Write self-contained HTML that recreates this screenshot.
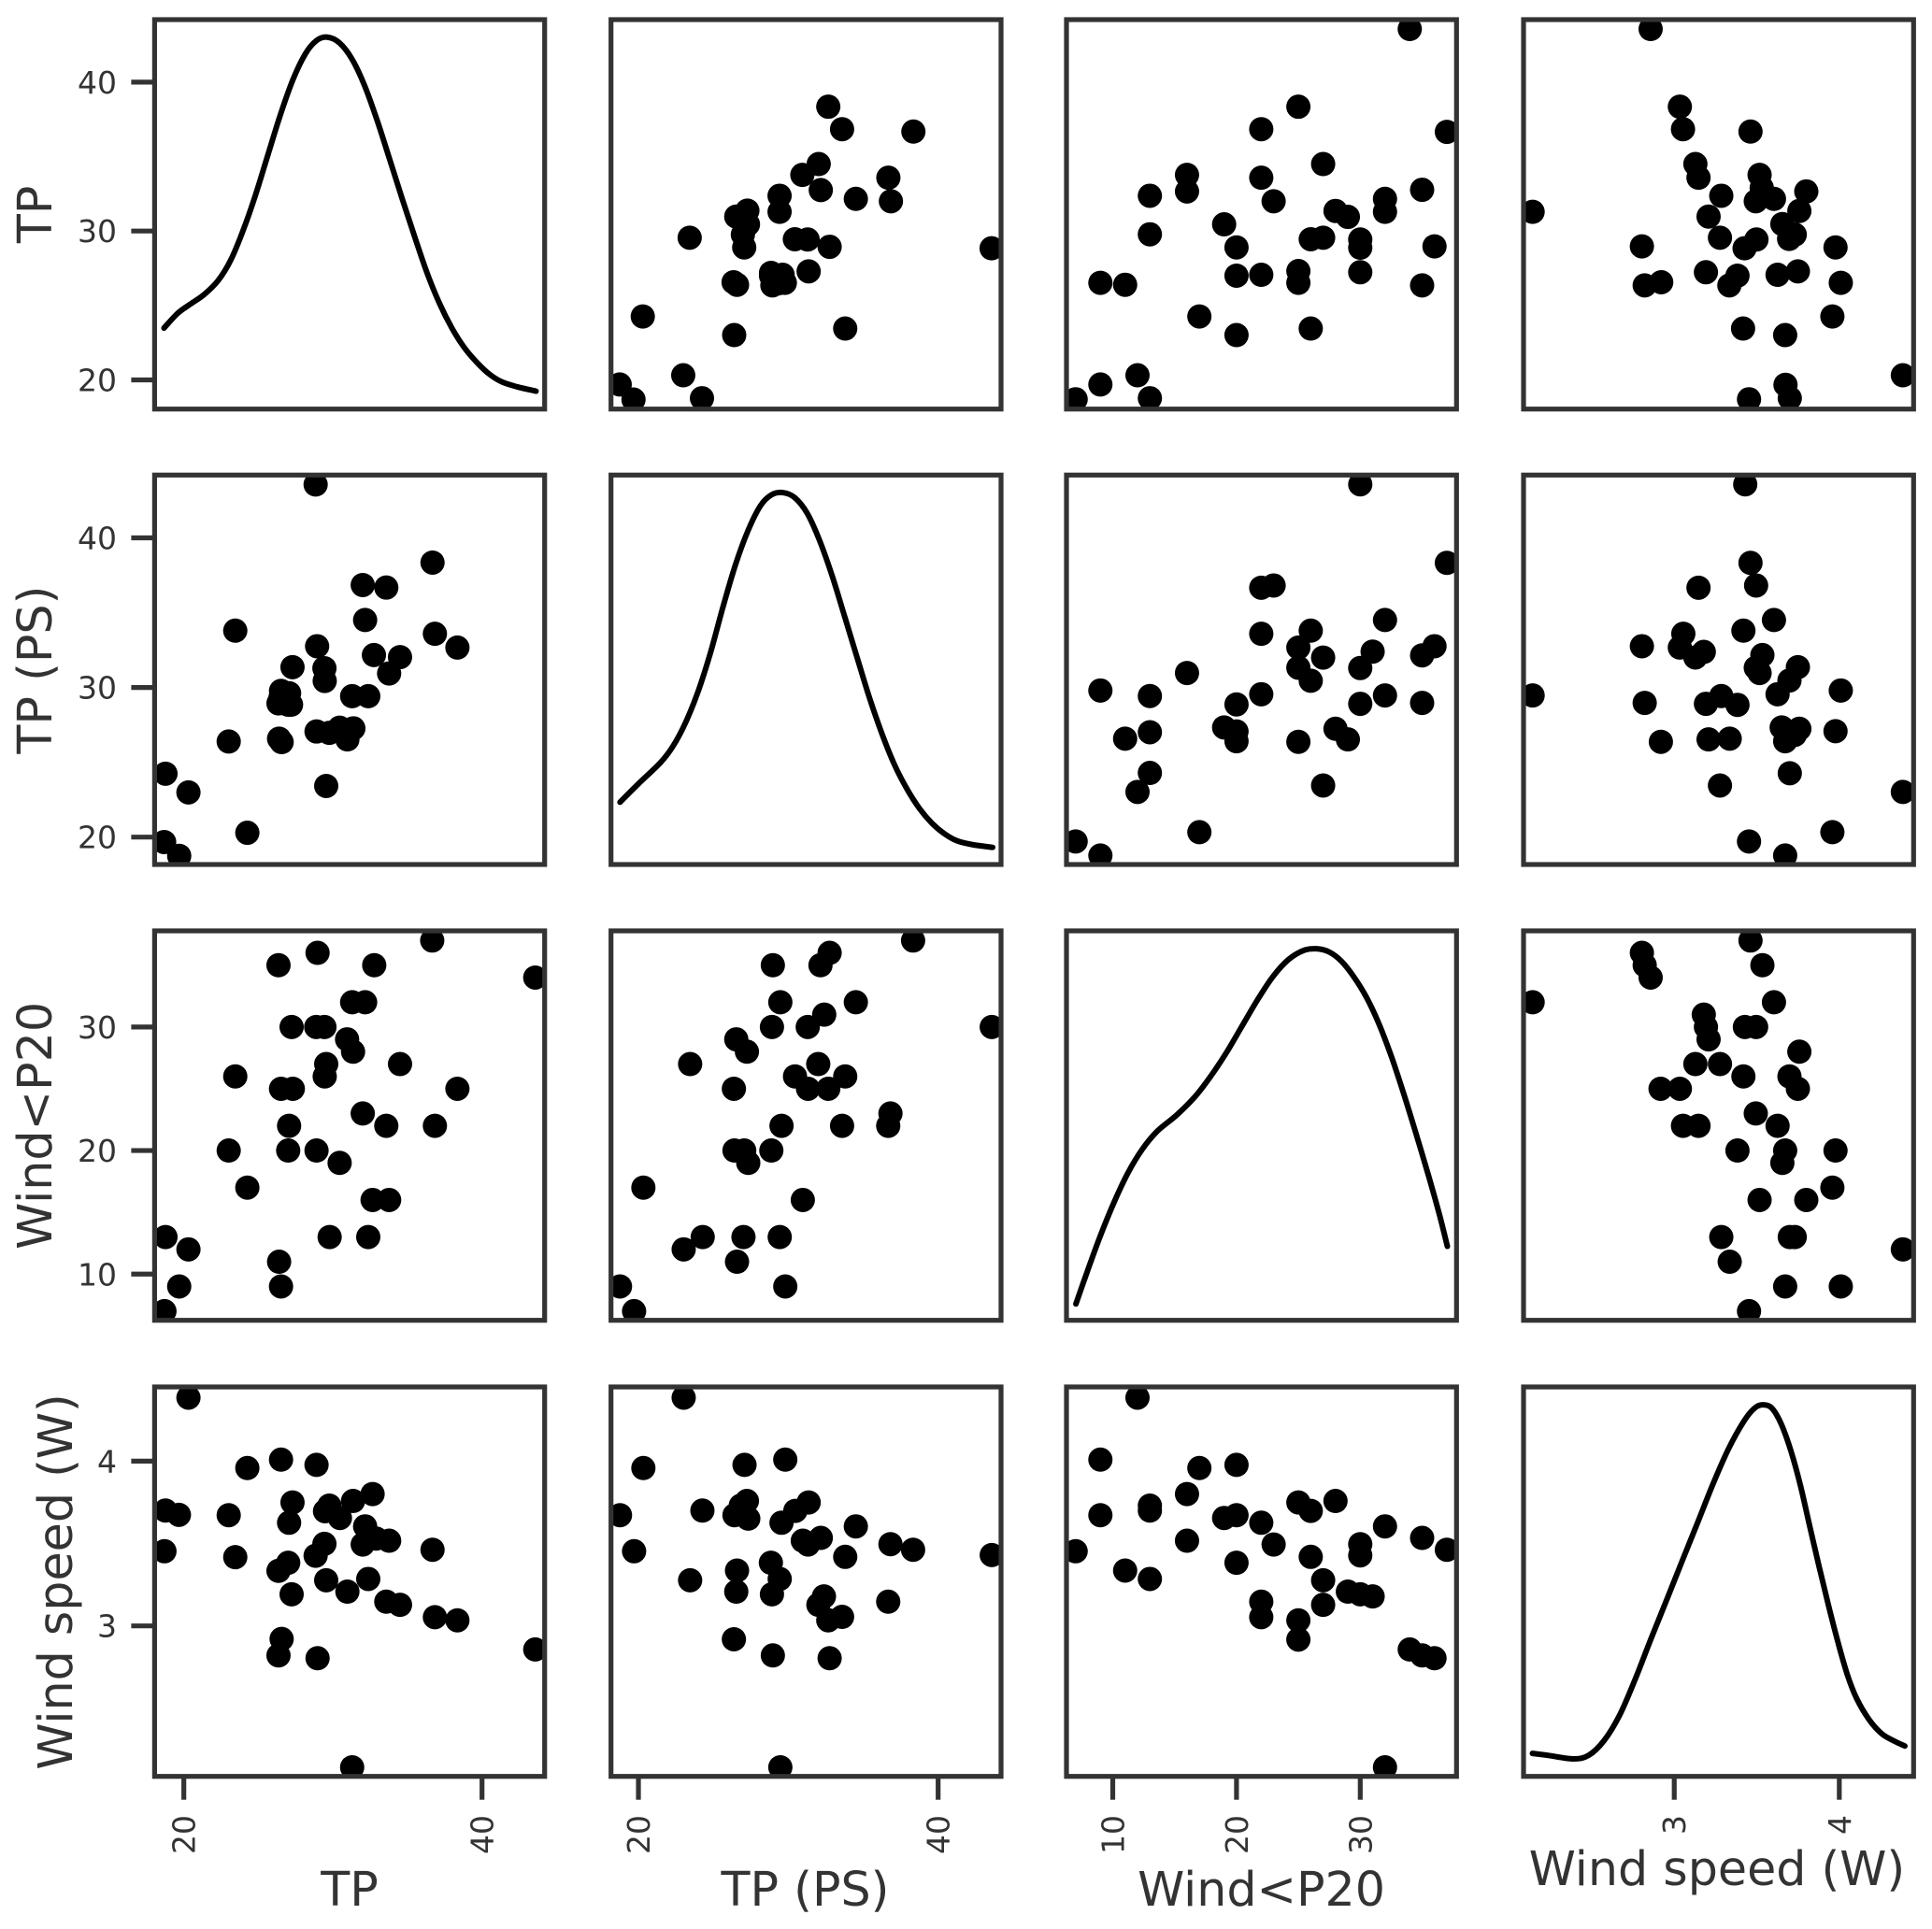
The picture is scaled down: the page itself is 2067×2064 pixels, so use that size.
<!DOCTYPE html>
<html lang="en">
<head>
<meta charset="utf-8">
<title>Pair plot of TP, TP (PS), Wind&lt;P20 and Wind speed (W)</title>
<style>
  html, body { margin: 0; padding: 0; background: #fff; }
  svg { display: block; }
  text { font-family: "DejaVu Sans", "Liberation Sans", sans-serif; fill: #333; }
  .title { font-size: 50.7px; }
  .tick-label { font-size: 33px; }
</style>
</head>
<body>
<svg id="chart" xmlns="http://www.w3.org/2000/svg" width="2067" height="2064" viewBox="0 0 2067 2064">
  <rect width="2067" height="2064" fill="#fff"/>
  <text class="title" transform="translate(55,229.4) rotate(-90)" text-anchor="middle">TP</text>
  <text class="title" transform="translate(55,716.6) rotate(-90)" text-anchor="middle">TP (PS)</text>
  <text class="title" transform="translate(55,1204.4) rotate(-90)" text-anchor="middle">Wind&lt;P20</text>
  <text class="title" transform="translate(77,1692.4) rotate(-90)" text-anchor="middle">Wind speed (W)</text>
  <text class="title" x="374" y="2039" text-anchor="middle">TP</text>
  <text class="title" x="861.5" y="2039" text-anchor="middle">TP (PS)</text>
  <text class="title" x="1349.6" y="2039" text-anchor="middle">Wind&lt;P20</text>
  <text class="title" x="1837" y="2017" text-anchor="middle">Wind speed (W)</text>
</svg>
<script>
// Tick values: the y axes of the TP rows show three ticks, their x axes two
const tpYTicks = [20, 30, 40];
const psYTicks = [20, 30, 40];
const windYTicks = [10, 20, 30];
const wsYTicks = [3, 4];
const tpXTicks = [20, 40];
const psXTicks = [20, 40];
const windXTicks = [10, 20, 30];
const wsXTicks = [3, 4];

// Axis domains
const tpDomain = [18.04, 44.2];
const psDomain = [18.17, 44.2];
const windDomain = [6.26, 37.78];
const wsDomain = [2.087, 4.45];

// TP vs TP (PS)
const tpPs_tp = [28.84,36.68,32.0,33.58,32.16,23.45,28.94,36.84,38.35,32.75,34.5,33.77,27.29,29.43,29.45,26.52,27.06,31.29,32.37,26.35,27.19,27.0,28.9,29.76,30.45,31.37,30.97,23.01,26.39,26.56,18.77,20.31,29.55,24.26,18.68,19.69,26.48];
const tpPs_ps = [43.57,38.35,36.85,36.68,34.51,33.8,32.76,33.59,32.67,32.17,32.03,30.94,31.36,31.29,30.44,29.77,29.62,29.42,29.42,28.94,28.85,28.85,27.06,26.97,27.31,27.27,26.53,26.39,26.58,26.35,24.24,22.99,23.42,20.29,19.67,18.75,29.31];

// TP vs Wind<P20
const tpWind_tp = [36.66,28.97,26.35,32.77,43.57,31.29,32.16,27.23,28.88,29.43,30.95,31.35,29.55,34.5,23.45,29.45,26.52,27.31,38.35,32.0,27.06,33.58,36.84,23.01,27.0,28.9,30.45,24.26,32.66,33.77,18.77,29.78,32.37,20.31,26.39,19.69,26.52,18.7];
const tpWind_wind = [37,36,35,35,34,32,32,30,30,30,29,28,27,27,26,26,25,25,25,23,22,22,22,20,20,20,19,17,16,16,13,13,13,12,11,9,9,7];

// TP vs Wind speed (W)
const tpWs_tp = [20.31,24.26,26.52,28.9,27.29,29.76,31.35,32.66,18.77,19.67,23.01,29.47,27.06,30.47,32.16,32.9,32.0,33.77,36.68,18.7,23.45,29.43,28.84,27.0,26.35,29.55,32.37,30.97,27.23,33.58,34.5,36.84,38.35,43.57,26.56,26.35,28.97,31.29];
const tpWs_ws = [4.385,3.958,4.009,3.977,3.749,3.73,3.758,3.8,3.7,3.674,3.672,3.696,3.626,3.655,3.604,3.53,3.494,3.517,3.462,3.453,3.417,3.498,3.426,3.383,3.334,3.277,3.285,3.208,3.192,3.147,3.128,3.053,3.034,2.857,2.921,2.821,2.804,2.142];

// TP (PS) vs Wind<P20
const psWind_ps = [38.33,32.76,32.15,28.97,43.58,34.51,29.47,32.4,31.3,28.91,26.53,27.24,23.45,32.0,30.45,33.8,31.32,32.67,26.37,36.82,29.55,33.59,36.67,26.41,27.06,28.87,27.33,20.33,30.97,24.29,27.01,29.43,23.02,26.58,18.77,29.8,19.71];
const psWind_wind = [37,36,35,35,30,32,32,31,30,30,29,28,27,27,26,26,25,25,25,23,22,22,22,20,20,20,19,17,16,13,13,13,12,11,9,9,7];

// TP (PS) vs Wind speed (W)
const psWs_ps = [23.02,20.33,27.08,29.8,27.24,26.83,31.36,30.47,29.55,18.77,24.27,26.41,27.33,34.51,30.97,31.32,32.17,36.82,38.33,19.71,43.58,33.8,28.84,26.58,29.43,23.45,26.53,28.91,32.38,32.01,33.59,32.67,36.67,26.37,28.97,32.76,29.47];
const psWs_ws = [4.385,3.958,3.977,4.009,3.758,3.73,3.749,3.698,3.626,3.672,3.7,3.672,3.651,3.604,3.517,3.494,3.534,3.496,3.462,3.453,3.43,3.419,3.383,3.336,3.285,3.277,3.208,3.192,3.179,3.128,3.055,3.034,3.147,2.919,2.821,2.804,2.142];

// Wind<P20 vs Wind speed (W)
const windWs_wind = [12,9,17,20,16,13,13,9,19,20,25,26,28,22,23,16,7,20,26,30,30,32,35,37,11,13,27,27,29,30,31,22,22,25,25,34,35,36,32];
const windWs_ws = [4.385,4.009,3.958,3.977,3.8,3.73,3.7,3.672,3.655,3.672,3.749,3.698,3.758,3.626,3.494,3.517,3.453,3.383,3.419,3.496,3.428,3.604,3.534,3.462,3.336,3.285,3.277,3.128,3.208,3.192,3.179,3.147,3.053,3.034,2.917,2.857,2.821,2.804,2.142];

// Density curves on the diagonal (density is relative to the panel height)
const kdeTp_x = [18.67,19.59,20.42,21.36,22.3,23.14,23.97,24.81,25.65,26.48,27.32,28.15,28.89,29.62,30.45,31.29,32.13,32.96,33.8,34.63,35.47,36.31,37.14,37.98,38.81,39.65,40.48,41.32,42.37,43.62];
const kdeTp_density = [.208,.246,.269,.294,.33,.382,.458,.55,.654,.756,.846,.912,.946,.955,.94,.898,.83,.742,.642,.542,.444,.35,.272,.208,.158,.12,.09,.07,.057,.046];
const kdePs_x = [18.77,20.02,21.48,22.31,23.14,23.98,24.81,25.64,26.47,27.31,28.14,28.87,29.64,30.43,31.26,32.09,32.93,33.76,34.59,35.42,36.26,37.09,37.92,38.75,39.59,40.42,41.25,42.29,43.64];
const kdePs_density = [.16,.208,.262,.304,.364,.444,.544,.661,.769,.857,.921,.949,.955,.942,.902,.832,.741,.637,.532,.428,.335,.256,.194,.144,.106,.079,.061,.051,.044];
const kdeWind_x = [7.02,7.95,8.96,10.09,11.22,12.36,13.61,15.13,16.64,17.9,19.16,20.42,21.68,22.93,24.19,25.45,26.46,27.47,28.48,29.48,30.49,31.5,32.51,33.51,34.52,35.53,36.41,37.04];
const kdeWind_density = [.042,.126,.214,.302,.378,.438,.486,.526,.574,.626,.686,.754,.822,.882,.926,.95,.954,.946,.922,.882,.83,.762,.678,.582,.478,.37,.27,.19];
const kdeWs_x = [2.141,2.235,2.386,2.481,2.575,2.67,2.764,2.858,2.953,3.047,3.142,3.236,3.33,3.425,3.491,3.542,3.595,3.651,3.708,3.765,3.821,3.878,3.935,3.991,4.048,4.105,4.18,4.256,4.331,4.397];
const kdeWs_density = [.059,.054,.045,.054,.092,.158,.25,.352,.452,.552,.652,.752,.842,.914,.947,.954,.944,.902,.834,.746,.642,.538,.438,.346,.262,.2,.146,.11,.091,.078];

const NS = 'http://www.w3.org/2000/svg';
const svg = document.getElementById('chart');
const colLeft = [165.4, 653.7, 1141, 1630];
const rowTop = [21, 508.3, 996, 1484];
const panelW = 417.3;
const panelH = 416.7;
const spineWidth = '5.2';
const varSlug = ['tp', 'tp-ps', 'wind-p20', 'wind-speed'];
const domains = [tpDomain, psDomain, windDomain, wsDomain];
const yTicks = [tpYTicks, psYTicks, windYTicks, wsYTicks];
const xTicks = [tpXTicks, psXTicks, windXTicks, wsXTicks];
const kdeX = [kdeTp_x, kdePs_x, kdeWind_x, kdeWs_x];
const kdeDensity = [kdeTp_density, kdePs_density, kdeWind_density, kdeWs_density];

function xScale(col, value) {
  const d = domains[col];
  return colLeft[col] + (value - d[0]) / (d[1] - d[0]) * panelW;
}
function yScale(row, value) {
  const d = domains[row];
  return rowTop[row] + panelH - (value - d[0]) / (d[1] - d[0]) * panelH;
}
function densityScale(row, value) {
  return rowTop[row] + panelH - value * panelH;
}
function pairValues(a, b) {
  // a < b: variable indexes; returns values for a and b
  const key = a + '-' + b;
  if (key === '0-1') return [tpPs_tp, tpPs_ps];
  if (key === '0-2') return [tpWind_tp, tpWind_wind];
  if (key === '0-3') return [tpWs_tp, tpWs_ws];
  if (key === '1-2') return [psWind_ps, psWind_wind];
  if (key === '1-3') return [psWs_ps, psWs_ws];
  return [windWs_wind, windWs_ws];
}
function smoothPath(pts) {
  let d = 'M' + pts[0][0].toFixed(2) + ' ' + pts[0][1].toFixed(2);
  for (let i = 0; i < pts.length - 1; i++) {
    const p0 = pts[Math.max(i - 1, 0)];
    const p1 = pts[i];
    const p2 = pts[i + 1];
    const p3 = pts[Math.min(i + 2, pts.length - 1)];
    const c1x = p1[0] + (p2[0] - p0[0]) / 6;
    const c1y = p1[1] + (p2[1] - p0[1]) / 6;
    const c2x = p2[0] - (p3[0] - p1[0]) / 6;
    const c2y = p2[1] - (p3[1] - p1[1]) / 6;
    d += 'C' + c1x.toFixed(2) + ' ' + c1y.toFixed(2) + ' ' + c2x.toFixed(2) + ' ' + c2y.toFixed(2) + ' ' + p2[0].toFixed(2) + ' ' + p2[1].toFixed(2);
  }
  return d;
}

const defs = document.createElementNS(NS, 'defs');
svg.appendChild(defs);

for (let row = 0; row < 4; row++) {
  for (let col = 0; col < 4; col++) {
    const panelId = 'clip-' + row + '-' + col;
    const clip = document.createElementNS(NS, 'clipPath');
    clip.setAttribute('id', panelId);
    const clipRect = document.createElementNS(NS, 'rect');
    clipRect.setAttribute('x', colLeft[col]);
    clipRect.setAttribute('y', rowTop[row]);
    clipRect.setAttribute('width', panelW);
    clipRect.setAttribute('height', panelH);
    clip.appendChild(clipRect);
    defs.appendChild(clip);

    const panel = document.createElementNS(NS, 'g');
    
    
    svg.appendChild(panel);

    const marks = document.createElementNS(NS, 'g');
    marks.setAttribute('clip-path', 'url(#' + panelId + ')');
    panel.appendChild(marks);

    if (row === col) {
      const pts = kdeX[col].map(function (v, i) {
        return [xScale(col, v), densityScale(row, kdeDensity[col][i])];
      });
      const curve = document.createElementNS(NS, 'path');
      
      
      curve.setAttribute('d', smoothPath(pts));
      curve.setAttribute('fill', 'none');
      curve.setAttribute('stroke', '#000');
      curve.setAttribute('stroke-width', '6');
      curve.setAttribute('stroke-linecap', 'round');
      curve.setAttribute('stroke-linejoin', 'round');
      marks.appendChild(curve);
    } else {
      const a = Math.min(row, col);
      const b = Math.max(row, col);
      const values = pairValues(a, b);
      const xs = col === a ? values[0] : values[1];
      const ys = row === a ? values[0] : values[1];
      for (let i = 0; i < xs.length; i++) {
        const dot = document.createElementNS(NS, 'circle');
        
        
        dot.setAttribute('cx', xScale(col, xs[i]).toFixed(2));
        dot.setAttribute('cy', yScale(row, ys[i]).toFixed(2));
        dot.setAttribute('r', '13');
        dot.setAttribute('fill', '#000');
        marks.appendChild(dot);
      }
    }

    const frame = document.createElementNS(NS, 'rect');
    
    
    frame.setAttribute('x', colLeft[col]);
    frame.setAttribute('y', rowTop[row]);
    frame.setAttribute('width', panelW);
    frame.setAttribute('height', panelH);
    frame.setAttribute('fill', 'none');
    frame.setAttribute('stroke', '#333');
    frame.setAttribute('stroke-width', spineWidth);
    panel.appendChild(frame);

    if (col === 0) {
      yTicks[row].forEach(function (t) {
        const y = yScale(row, t);
        const mark = document.createElementNS(NS, 'line');
        
        
        mark.setAttribute('x1', colLeft[0] - 25);
        mark.setAttribute('x2', colLeft[0]);
        mark.setAttribute('y1', y);
        mark.setAttribute('y2', y);
        mark.setAttribute('stroke', '#333');
        mark.setAttribute('stroke-width', spineWidth);
        panel.appendChild(mark);
        const label = document.createElementNS(NS, 'text');
        
        
        label.setAttribute('class', 'tick-label');
        label.setAttribute('x', '125');
        label.setAttribute('y', y + 12);
        label.setAttribute('text-anchor', 'end');
        label.textContent = String(t);
        panel.appendChild(label);
      });
    }
    if (row === 3) {
      xTicks[col].forEach(function (t) {
        const x = xScale(col, t);
        const base = rowTop[3] + panelH;
        const mark = document.createElementNS(NS, 'line');
        
        
        mark.setAttribute('x1', x);
        mark.setAttribute('x2', x);
        mark.setAttribute('y1', base);
        mark.setAttribute('y2', base + 25);
        mark.setAttribute('stroke', '#333');
        mark.setAttribute('stroke-width', spineWidth);
        panel.appendChild(mark);
        const label = document.createElementNS(NS, 'text');
        
        
        label.setAttribute('class', 'tick-label');
        label.setAttribute('transform', 'translate(' + (x + 12) + ',1942) rotate(-90)');
        label.setAttribute('text-anchor', 'end');
        label.textContent = String(t);
        panel.appendChild(label);
      });
    }
  }
}
</script>
</body>
</html>
